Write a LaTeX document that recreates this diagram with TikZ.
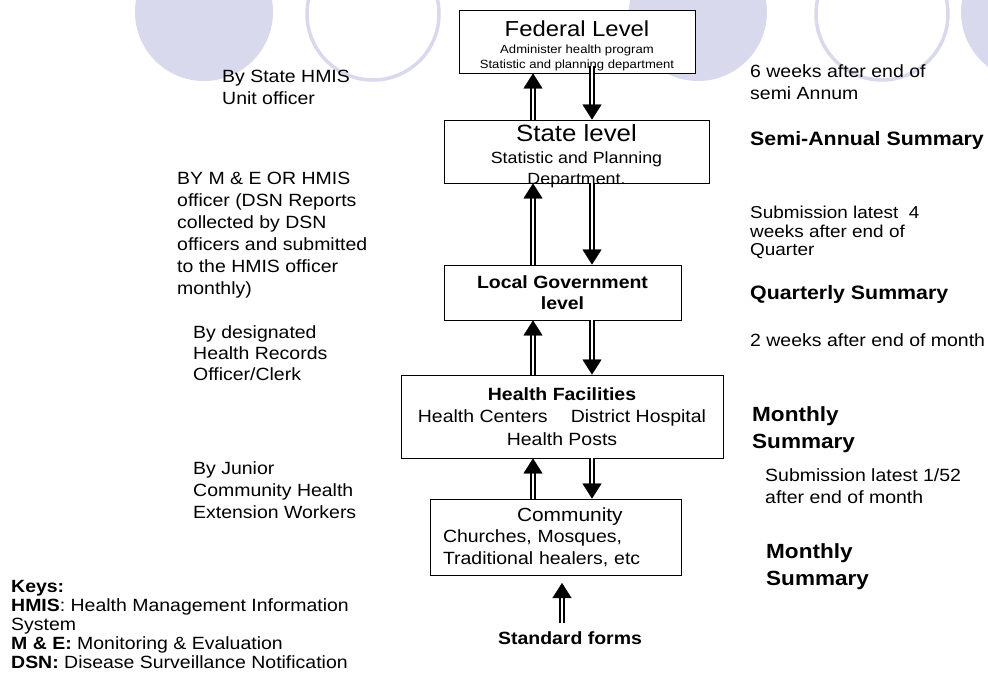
\documentclass[tikz,border=0pt]{standalone}
\usepackage{fontspec}
\setmainfont{Liberation Sans}[FakeStretch=1.1]
\usetikzlibrary{arrows.meta}

\definecolor{lavender}{RGB}{217,217,237}
\tikzset{
	level/.style={draw, fill=white, line width=0.9pt, align=center, inner sep=0pt, font=\fontsize{17.7}{22}\selectfont},
	note/.style={anchor=north west, inner sep=0pt, align=left, font=\fontsize{17.7}{22}\selectfont},
	arrshaft/.style={double, line width=1.3pt, double distance=2.8pt, shorten >=13pt},
	arrhead/.style={white, line width=0.3pt, -{Triangle[color=black, fill=black, width=19pt, length=15pt]}},
}

\begin{document}
\begin{tikzpicture}[x=1pt, y=-1pt]
		\useasboundingbox (0,0) rectangle (988,674);
		\clip (0,0) rectangle (988,674);
		\fill [lavender] (204,12) circle (69pt);
		\draw [lavender, line width=3.5pt] (373,14) circle (66pt);
		\fill [lavender] (698,12) circle (69pt);
		\draw [lavender, line width=3.5pt] (882,14) circle (66pt);
		\fill [lavender] (1030,12) circle (69pt);

		\draw (577,41.5) node [level, minimum width=236pt, minimum height=63pt] (fed) {};
		\draw (577,45.5) node [align=center, inner sep=0pt, font=\fontsize{11.9}{15}\selectfont] (fedtext) {{\fontsize{21.7}{22}\selectfont Federal Level}\\[2pt] Administer health program\\ Statistic and planning department};
		\draw (576.5,151.5) node [level, minimum width=265pt, minimum height=63pt] (state) {};
		\draw (576.5,156.5) node [align=center, inner sep=0pt, font=\fontsize{16.2}{21.4}\selectfont] (statetext) {{\fontsize{23.5}{24}\selectfont State level}\\ Statistic and Planning\\ Department.};
		\draw (562.5,292.5) node [level, minimum width=237pt, minimum height=55pt, font=\bfseries\fontsize{17.7}{21.5}\selectfont] (lg) {Local Government\\ level};
		\draw (562,416.5) node [level, minimum width=322pt, minimum height=83pt, font=\fontsize{17.7}{22.5}\selectfont] (hf) {\textbf{Health Facilities}\\ Health Centers \quad District Hospital\\ Health Posts};
		\draw (555.5,537) node [level, minimum width=251pt, minimum height=76pt, text width=225pt, align=left, font=\fontsize{17.7}{21.5}\selectfont] (comm) {\hspace*{74pt}{\fontsize{19}{21.5}\selectfont Community}\\ Churches, Mosques,\\ Traditional healers, etc};
		\draw (570,638) node [inner xsep=0pt, inner ysep=8pt, font=\bfseries\fontsize{17.7}{22}\selectfont] (std) {Standard forms};

		\coordinate (up) at (533,0);
		\coordinate (dn) at (592,0);
		\coordinate (sf) at (562,0);
		\coordinate (fedout) at (592,66);
		\coordinate (stdtip) at (562,583);

		\draw [arrshaft] (state.north -| up) -- (fed.south -| up);
		\draw [arrhead] (state.north -| up) -- (fed.south -| up);
		\draw [arrshaft] (fedout) -- (state.north -| dn);
		\draw [arrhead] (fedout) -- (state.north -| dn);
		\draw [arrshaft] (lg.north -| up) -- (state.south -| up);
		\draw [arrhead] (lg.north -| up) -- (state.south -| up);
		\draw [arrshaft] (state.south -| dn) -- (lg.north -| dn);
		\draw [arrhead] (state.south -| dn) -- (lg.north -| dn);
		\draw [arrshaft] (hf.north -| up) -- (lg.south -| up);
		\draw [arrhead] (hf.north -| up) -- (lg.south -| up);
		\draw [arrshaft] (lg.south -| dn) -- (hf.north -| dn);
		\draw [arrhead] (lg.south -| dn) -- (hf.north -| dn);
		\draw [arrshaft] (comm.north -| up) -- (hf.south -| up);
		\draw [arrhead] (comm.north -| up) -- (hf.south -| up);
		\draw [arrshaft] (hf.south -| dn) -- (comm.north -| dn);
		\draw [arrhead] (hf.south -| dn) -- (comm.north -| dn);
		\draw [arrshaft] (std.north -| sf) -- (stdtip);
		\draw [arrhead] (std.north -| sf) -- (stdtip);

		\node [note] (bystate) at (222,69.5) {By State HMIS\\ Unit officer};
		\node [note] (byme) at (177,171.5) {BY M \& E OR HMIS\\ officer (DSN Reports\\ collected by DSN\\ officers and submitted\\ to the HMIS officer\\ monthly)};
		\node [note, font=\fontsize{17.7}{21}\selectfont] (byrecords) at (193,325.5) {By designated\\ Health Records\\ Officer/Clerk};
		\node [note] (byjunior) at (193,461.5) {By Junior\\ Community Health\\ Extension Workers};
		\node [note, font=\fontsize{17.7}{19}\selectfont] (keys) at (11,580) {\textbf{Keys:}\\ \textbf{HMIS}: Health Management Information\\ System\\ \textbf{M \& E:} Monitoring \& Evaluation\\ \textbf{DSN:} Disease Surveillance Notification};

		\node [note] (sixweeks) at (750,64.5) {6 weeks after end of\\ semi Annum};
		\node [note, font=\bfseries\fontsize{19.4}{22}\selectfont] (semiannual) at (750,131) {Semi-Annual Summary};
		\node [note, font=\fontsize{17.2}{18.5}\selectfont] (fourweeks) at (750,206) {Submission latest\ \ 4\\ weeks after end of\\ Quarter};
		\node [note, font=\bfseries\fontsize{19.4}{22}\selectfont] (quarterly) at (750,284.8) {Quarterly Summary};
		\node [note] (twoweeks) at (750,333) {2 weeks after end of month};
		\node [note, font=\bfseries\fontsize{20.5}{27}\selectfont] (monthlyhf) at (752,406) {Monthly\\ Summary};
		\node [note] (oneweek) at (765,468.5) {Submission latest 1/52\\ after end of month};
		\node [note, font=\bfseries\fontsize{20.5}{27}\selectfont] (monthlycomm) at (766,543) {Monthly\\ Summary};
	\end{tikzpicture}
\end{document}
